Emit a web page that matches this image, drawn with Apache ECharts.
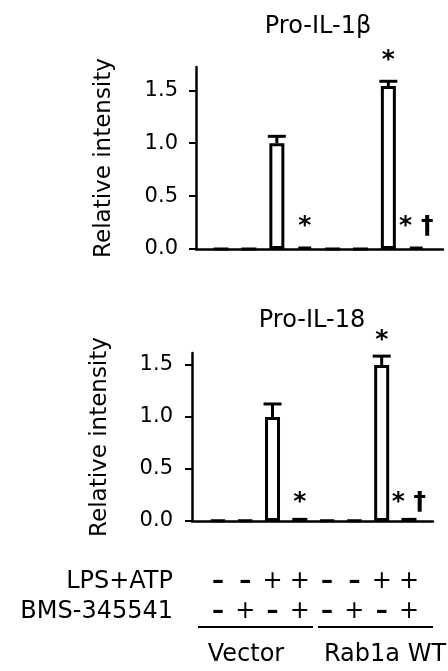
<!DOCTYPE html>
<html>
<head>
<meta charset="utf-8">
<script src="https://cdn.jsdelivr.net/npm/echarts@6/dist/echarts.min.js"></script>
<style>
  html, body { margin: 0; padding: 0; background: #fff; }
  #chart { width: 448px; height: 671px; }
</style>
</head>
<body>
<div id="chart"></div>
<script>
// 数据
const groups = ['Vector', 'Rab1a WT'];
const lpsAtp = ['-', '-', '+', '+', '-', '-', '+', '+'];
const bms = ['-', '+', '-', '+', '-', '+', '-', '+'];
const yTicks = [0, 0.5, 1.0, 1.5];

const il1bMean = [0, 0, 1.0, 0.02, 0, 0, 1.54, 0.02];
const il1bErr = [0, 0, 0.065, 0, 0, 0, 0.045, 0];
const il1bMarks = ['', '', '', '*', '', '', '*', '* †'];

const il18Mean = [0.005, 0.005, 1.0, 0.03, 0.005, 0.005, 1.5, 0.03];
const il18Err = [0, 0, 0.125, 0, 0, 0, 0.085, 0];
const il18Marks = ['', '', '', '*', '', '', '*', '* †'];

const FONT = 'DejaVu Sans';
const positions = lpsAtp.map((_, i) => i);

// 柱子
function barSeries(idx, means) {
    return {
        type: 'bar',
        xAxisIndex: idx,
        yAxisIndex: idx,
        barWidth: 15,
        silent: true,
        itemStyle: { color: '#fff', borderColor: '#000', borderWidth: 3 },
        data: means.map((m, i) => [i, m])
    };
}

// 误差线 + 显著性标记
function errSeries(idx, means, errs, marks, gap) {
    return {
        type: 'custom',
        xAxisIndex: idx,
        yAxisIndex: idx,
        z: 5,
        silent: true,
        encode: { x: 0, y: 1 },
        data: means.map((m, i) => [i, m, errs[i]]),
        renderItem(params, api) {
            const i = api.value(0), m = api.value(1), e = api.value(2);
            const base = api.coord([i, m]);
            const top = api.coord([i, m + e]);
            const children = [];
            if (e > 0) {
                children.push({ type: 'line', shape: { x1: base[0], y1: base[1], x2: top[0], y2: top[1] },
                    style: { stroke: '#000', lineWidth: 3 } });
                children.push({ type: 'line', shape: { x1: top[0] - 9, y1: top[1], x2: top[0] + 9, y2: top[1] },
                    style: { stroke: '#000', lineWidth: 3 } });
            }
            const mark = marks[params.dataIndex];
            if (mark) {
                children.push({ type: 'text', x: top[0], y: top[1] - gap,
                    style: { text: mark, font: 'bold 25px "DejaVu Sans"', fill: '#000',
                        align: 'center', verticalAlign: 'bottom' } });
            }
            return { type: 'group', children };
        }
    };
}

function yAxisOpt(idx, max, margin) {
    return {
        gridIndex: idx,
        type: 'value',
        min: 0,
        max: max,
        name: 'Relative intensity',
        nameLocation: 'middle',
        nameGap: 80,
        nameTextStyle: { fontSize: 23, color: '#000', fontFamily: FONT },
        axisLine: { show: true, onZero: false, lineStyle: { color: '#000', width: 2.5 } },
        axisTick: { show: true, length: 7, customValues: yTicks, lineStyle: { color: '#000', width: 2 } },
        axisLabel: { fontSize: 21, color: '#000', fontFamily: FONT, margin: margin,
            customValues: yTicks, formatter: v => v.toFixed(1) },
        splitLine: { show: false }
    };
}

const chart = echarts.init(document.getElementById('chart'));

const option = {
    animation: false,
    backgroundColor: '#fff',
    textStyle: { fontFamily: FONT },
    title: [
        { text: 'Pro-IL-1β', left: 318, top: 15, textAlign: 'center', padding: 0,
          textStyle: { fontSize: 24, fontWeight: 'normal', color: '#000', fontFamily: FONT } },
        { text: 'Pro-IL-18', left: 312, top: 309, textAlign: 'center', padding: 0,
          textStyle: { fontSize: 24, fontWeight: 'normal', color: '#000', fontFamily: FONT } }
    ],
    grid: [
        { left: 196, top: 67, right: 5, bottom: 422, outerBoundsMode: 'none' },
        { left: 192, top: 353, right: 15, bottom: 150, outerBoundsMode: 'none' }
    ],
    xAxis: [
        { gridIndex: 0, type: 'value', min: -0.9, max: 7.96,
          axisLine: { show: true, onZero: false, lineStyle: { color: '#000', width: 2.5 } },
          axisTick: { show: false }, axisLabel: { show: false }, splitLine: { show: false } },
        { gridIndex: 1, type: 'value', min: -0.95, max: 7.88,
          axisLine: { show: true, onZero: false, lineStyle: { color: '#000', width: 2.5 } },
          axisTick: { show: false }, splitLine: { show: false },
          axisLabel: {
              customValues: positions,
              margin: 46,
              lineHeight: 30,
              formatter: v => {
                  const i = Math.round(v);
                  const f = s => (s === '-' ? '{m|–}' : '{p|+}');
                  return f(lpsAtp[i]) + '\n' + f(bms[i]);
              },
              rich: {
                  m: { fontSize: 24, fontWeight: 'bold', color: '#000', fontFamily: FONT, lineHeight: 30 },
                  p: { fontSize: 24, color: '#000', fontFamily: FONT, lineHeight: 30 }
              }
          } }
    ],
    yAxis: [yAxisOpt(0, 1.72, 18), yAxisOpt(1, 1.615, 19)],
    series: [
        barSeries(0, il1bMean),
        errSeries(0, il1bMean, il1bErr, il1bMarks, 8),
        barSeries(1, il18Mean),
        errSeries(1, il18Mean, il18Err, il18Marks, 3)
    ],
    graphic: [
        { type: 'text', x: 173, y: 582, style: { text: 'LPS+ATP', font: '24px "DejaVu Sans"', fill: '#000', align: 'right', verticalAlign: 'middle' } },
        { type: 'text', x: 173, y: 612, style: { text: 'BMS-345541', font: '24px "DejaVu Sans"', fill: '#000', align: 'right', verticalAlign: 'middle' } },
        { type: 'line', shape: { x1: 198, y1: 627, x2: 313, y2: 627 }, style: { stroke: '#000', lineWidth: 2 } },
        { type: 'line', shape: { x1: 318, y1: 627, x2: 433, y2: 627 }, style: { stroke: '#000', lineWidth: 2 } },
        { type: 'text', x: 246, y: 655, style: { text: groups[0], font: '24px "DejaVu Sans"', fill: '#000', align: 'center', verticalAlign: 'middle' } },
        { type: 'text', x: 385, y: 655, style: { text: groups[1], font: '24px "DejaVu Sans"', fill: '#000', align: 'center', verticalAlign: 'middle' } }
    ]
};

chart.setOption(option, true);
</script>
</body>
</html>
